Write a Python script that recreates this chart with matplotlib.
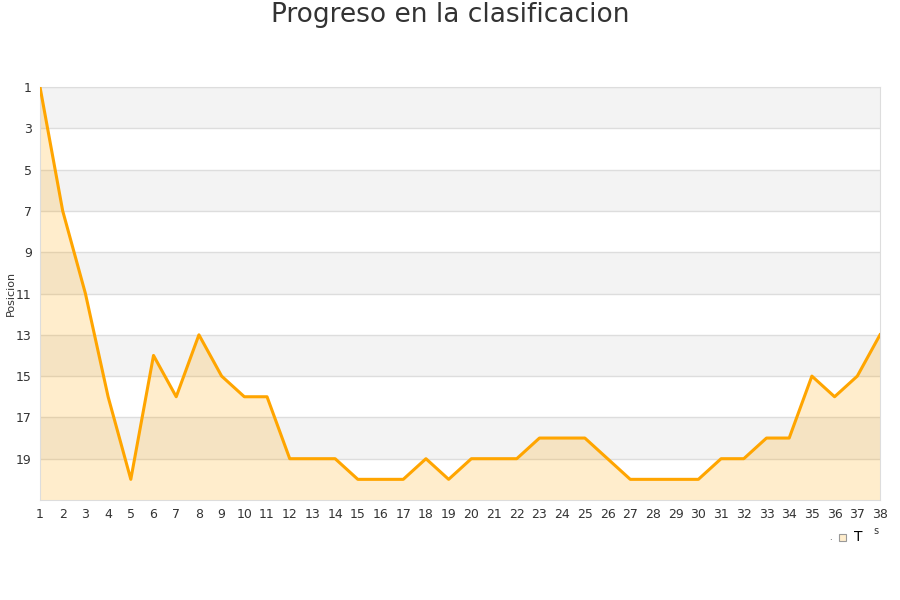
import matplotlib
matplotlib.use("Agg")
import matplotlib.pyplot as plt
import numpy as np

jornadas = list(range(1, 39))
posiciones = [1, 7, 11, 16, 20, 14, 16, 13, 15, 16, 16, 19, 19, 19, 20, 20, 20, 19, 20, 19,
              19, 19, 18, 18, 18, 19, 20, 20, 20, 20, 19, 19, 18, 18, 15, 16, 15, 13]
y_ticks = list(range(1, 21, 2))
n_posiciones = 21

fig = plt.figure(figsize=(9, 6), dpi=100)
ax = fig.add_axes([40 / 900, 1 - 500 / 600, 840 / 900, 413 / 600])

# alternating bands
for i, start in enumerate(range(1, n_posiciones, 2)):
    if i % 2 == 0:
        ax.axhspan(start, start + 2, color="#f3f3f3", zorder=0, lw=0)
for t in y_ticks:
    ax.axhline(t, color="#dddddd", lw=1, zorder=1)

ax.fill_between(jornadas, posiciones, n_posiciones, color="#ffa500", alpha=0.2, lw=0, zorder=2)
ax.plot(jornadas, posiciones, color="#ffa500", lw=2.2, zorder=3)

ax.set_xlim(1, 38)
ax.set_ylim(n_posiciones, 1)
ax.set_xticks(jornadas)
ax.set_yticks(y_ticks)
ax.tick_params(length=0, labelsize=9, colors="#333333", pad=6)
for s in ax.spines.values():
    s.set_color("#dddddd")
fig.text(11 / 900, 1 - 293 / 600, "Posicion", fontsize=8, color="#333333",
         rotation=90, ha="center", va="center")

fig.text(0.5, 1 - 15 / 600, "Progreso en la clasificacion", fontsize=19, color="#333333",
         ha="center", va="center")

# broken legend
fig.patches.append(plt.Rectangle((839 / 900, 1 - 541 / 600), 7 / 900, 7 / 600,
                                 transform=fig.transFigure, facecolor="#ffedcc",
                                 edgecolor="#999999", lw=0.8))
fig.text(858 / 900, 1 - 537 / 600, "T", fontsize=10, color="#000000", ha="center", va="center")
fig.text(876 / 900, 1 - 531 / 600, "s", fontsize=7, color="#333333", ha="center", va="center")
fig.text(830 / 900, 1 - 537 / 600, ".", fontsize=6, color="#333333", ha="center", va="center")

fig.savefig("out.png", dpi=100)
